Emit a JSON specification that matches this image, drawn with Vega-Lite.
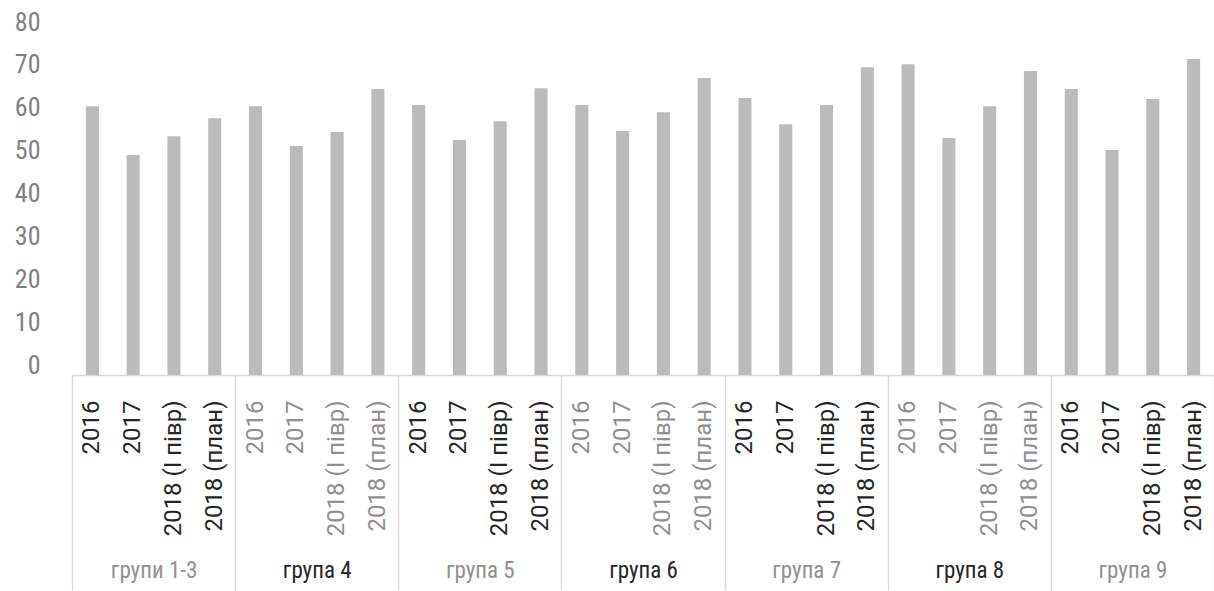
{
  "$schema": "https://vega.github.io/schema/vega-lite/v6.json",
  "width": 1142,
  "height": 343,
  "autosize": {"type": "none"},
  "padding": {"left": 72, "top": 32, "right": 0, "bottom": 216},
  "background": "white",
  "config": {"view": {"stroke": null}},
  "datasets": {
    "bars": [
      {"key": "0|2016", "value": 62.7}, {"key": "0|2017", "value": 51.3}, {"key": "0|2018 (I півр)", "value": 55.7}, {"key": "0|2018 (план)", "value": 59.9},
      {"key": "1|2016", "value": 62.7}, {"key": "1|2017", "value": 53.4}, {"key": "1|2018 (I півр)", "value": 56.7}, {"key": "1|2018 (план)", "value": 66.7},
      {"key": "2|2016", "value": 63.0}, {"key": "2|2017", "value": 54.8}, {"key": "2|2018 (I півр)", "value": 59.2}, {"key": "2|2018 (план)", "value": 66.9},
      {"key": "3|2016", "value": 63.0}, {"key": "3|2017", "value": 56.9}, {"key": "3|2018 (I півр)", "value": 61.3}, {"key": "3|2018 (план)", "value": 69.3},
      {"key": "4|2016", "value": 64.6}, {"key": "4|2017", "value": 58.5}, {"key": "4|2018 (I півр)", "value": 63.0}, {"key": "4|2018 (план)", "value": 71.8},
      {"key": "5|2016", "value": 72.5}, {"key": "5|2017", "value": 55.3}, {"key": "5|2018 (I півр)", "value": 62.7}, {"key": "5|2018 (план)", "value": 70.9},
      {"key": "6|2016", "value": 66.7}, {"key": "6|2017", "value": 52.5}, {"key": "6|2018 (I півр)", "value": 64.4}, {"key": "6|2018 (план)", "value": 73.7}
    ],
    "groups": [
      {"group": "групи 1-3"}, {"group": "група 4"}, {"group": "група 5"}, {"group": "група 6"},
      {"group": "група 7"}, {"group": "група 8"}, {"group": "група 9"}
    ]
  },
  "layer": [
    {
      "data": {"name": "bars"},
      "mark": {"type": "bar", "color": "#bbbbbb"},
      "encoding": {
        "x": {
          "field": "key", "type": "nominal", "sort": null,
          "scale": {"paddingInner": 0.68, "paddingOuter": 0.34},
          "axis": {
            "title": null, "orient": "bottom", "labelAngle": -90,
            "labelExpr": "split(datum.value,'|')[1]",
            "labelColor": {"condition": {"test": "toNumber(split(datum.value,'|')[0]) % 2 === 0", "value": "#262626"}, "value": "#909090"},
            "ticks": false, "grid": false,
            "domainColor": "#d9d9d9", "domainWidth": 1.5,
            "labelPadding": 25, "labelFont": "Roboto", "labelFontSize": 24, "labelLimit": 300
          }
        },
        "y": {
          "field": "value", "type": "quantitative",
          "scale": {"domain": [0, 80], "nice": false},
          "axis": {
            "title": null, "values": [0, 10, 20, 30, 40, 50, 60, 70, 80],
            "domain": false, "ticks": false, "grid": false,
            "labelColor": "#808080", "labelFontSize": 26,
            "labelFont": "Liberation Sans Narrow, Roboto Condensed, DejaVu Sans Condensed, sans-serif",
            "labelPadding": 32, "labelOffset": -10
          }
        }
      }
    },
    {
      "data": {"name": "groups"},
      "mark": {"type": "tick", "opacity": 0},
      "encoding": {
        "x": {
          "field": "group", "type": "nominal", "sort": null,
          "scale": {"paddingInner": 0, "paddingOuter": 0},
          "axis": {
            "title": null, "orient": "bottom", "labelAngle": 0,
            "tickBand": "extent", "tickSize": 215, "tickColor": "#d9d9d9", "tickWidth": 1.5,
            "domain": false, "grid": false,
            "labelPadding": -31,
            "labelColor": {"condition": {"test": "indexof(['група 4','група 6','група 8'], datum.value) >= 0", "value": "#262626"}, "value": "#909090"},
            "labelFont": "Liberation Sans Narrow, Roboto Condensed, DejaVu Sans Condensed, sans-serif",
            "labelFontSize": 23
          }
        }
      }
    }
  ],
  "resolve": {"scale": {"x": "independent"}, "axis": {"x": "independent"}}
}
